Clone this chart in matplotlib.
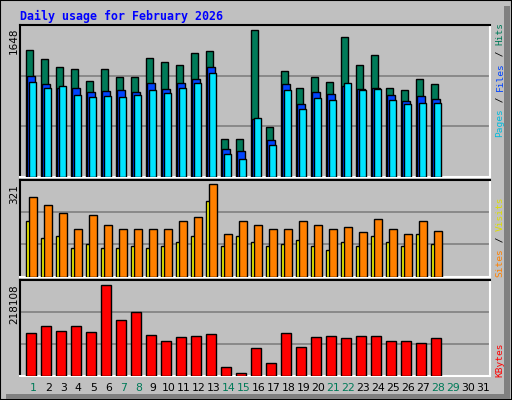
import matplotlib
matplotlib.use("Agg")
import matplotlib.pyplot as plt
from matplotlib.patches import Rectangle

days = list(range(1, 32))
data_days = list(range(1, 29))
hits = [1426,1325,1235,1213,1078,1213,1123,1123,1336,1291,1258,1392,1415,428,428,1648,563,1190,1000,1123,1067,1572,1258,1370,1000,977,1101,1045]
files = [1134,1045,1000,1000,955,966,977,955,1056,989,1056,1101,1235,316,294,652,417,1045,821,955,933,1022,989,1000,921,854,910,877]
pages = [1067,1000,1022,921,899,910,899,921,977,944,1000,1056,1168,260,204,664,361,977,765,888,865,1056,977,987,865,821,832,832]
visits = [279,248,220,164,213,181,164,167,164,164,192,206,321,150,195,181,167,167,192,181,167,174,157,199,167,150,195,160]
sites = [192,133,143,98,115,101,101,108,101,108,119,143,262,105,143,119,108,115,126,108,94,119,108,140,119,108,150,112]
kbytes = [103500,120200,108200,120200,105800,218108,134500,153600,98700,84300,93900,96300,101100,22200,7900,67600,31800,103500,70000,93900,96300,91500,96300,96300,84300,84300,79600,91500]
weekend = [1,7,8,14,15,21,22,28,29]
title = "Daily usage for February 2026"

W, H = 512, 400
fig = plt.figure(figsize=(W/100, H/100), dpi=100)
fig.patch.set_facecolor('#c0c0c0')
fig.patches.append(Rectangle((0, 0), 1, 1, transform=fig.transFigure, fill=False, ec='black', lw=1.5))
fig.patches.append(Rectangle((504/W, 2/H), 6/W, 392/H, transform=fig.transFigure, fc='#808080', ec='none'))
fig.patches.append(Rectangle((6/W, 1.5/H), 504/W, 4.5/H, transform=fig.transFigure, fc='#808080', ec='none'))

PX = 1/15.0
xl = ((20-18.3)/15, (490-18.3)/15)

def mkax(ytop, ybot):
    ax = fig.add_axes([20/W, 1-ybot/H, 470/W, (ybot-ytop)/H])
    ax.set_facecolor('#c0c0c0')
    ax.set_xlim(*xl)
    ax.set_xticks([]); ax.set_yticks([])
    for s in ['top', 'left']:
        ax.spines[s].set_color('black'); ax.spines[s].set_linewidth(1.5)
    for s in ['bottom', 'right']:
        ax.spines[s].set_color('white'); ax.spines[s].set_linewidth(1.5)
    return ax

def grid(ax, top):
    for f in (1/3, 2/3):
        ax.axhline(top*f, color='#808080', lw=1.2, zorder=0)

kw = dict(edgecolor='black', linewidth=1, align='edge', zorder=3)

ax1 = mkax(25, 177)
t1 = 152*11.21
ax1.set_ylim(0, t1); grid(ax1, t1)
ax1.bar([d-7.6*PX for d in data_days], hits, width=7.3*PX, color='#007a58', **kw)
ax1.bar([d-6.0*PX for d in data_days], files, width=7.3*PX, color='#0044ff', **kw)
ax1.bar([d-4.3*PX for d in data_days], pages, width=7.3*PX, color='#00e4ff', **kw)

ax2 = mkax(180.3, 276.5)
t2 = 96.2*3.489
ax2.set_ylim(0, t2); grid(ax2, t2)
ax2.bar([d-7.6*PX for d in data_days], sites, width=7.3*PX, color='#ffff00', **kw)
ax2.bar([d-4.0*PX for d in data_days], visits, width=7.3*PX, color='#ff8000', **kw)

ax3 = mkax(280.3, 376)
t3 = 95.7*2389
ax3.set_ylim(0, t3); grid(ax3, t3)
ax3.bar([d-7.0*PX for d in data_days], kbytes, width=10*PX, color='#ff0000', **kw)

mono = 'DejaVu Sans Mono'
fig.text(20/W, 1-16/H, title, family=mono, weight='bold', color='#0000ff', fontsize=8.4, va='center', ha='left')

for y, lab in [(28, str(max(hits))), (184, str(max(visits))), (284, str(max(kbytes)))]:
    fig.text(14/W, 1-y/H, lab, rotation=90, ha='center', va='top', fontsize=7.5, color='black')

def vlabel(ybot, parts):
    y = ybot
    r = fig.canvas.get_renderer()
    for txt, col in parts:
        t = fig.text(500/W, 1-y/H, txt, rotation=90, ha='center', va='bottom', family=mono, fontsize=6.8, color=col)
        bb = t.get_window_extent(renderer=r)
        y -= bb.height

vlabel(137, [("Pages", '#00bbdd'), (" / ", 'black'), ("Files", '#0044ff'), (" / ", 'black'), ("Hits", '#007a58')])
vlabel(277, [("Sites", '#ff8000'), (" / ", 'black'), ("Visits", '#dddd00')])
vlabel(377, [("KBytes", '#ff0000')])

for d in days:
    x = 18.3 + 15*d
    fig.text(x/W, 1-388/H, str(d), ha='center', va='center', fontsize=7.8,
             color='#007a58' if d in weekend else 'black')

fig.savefig('out.png', dpi=100, facecolor=fig.get_facecolor())
